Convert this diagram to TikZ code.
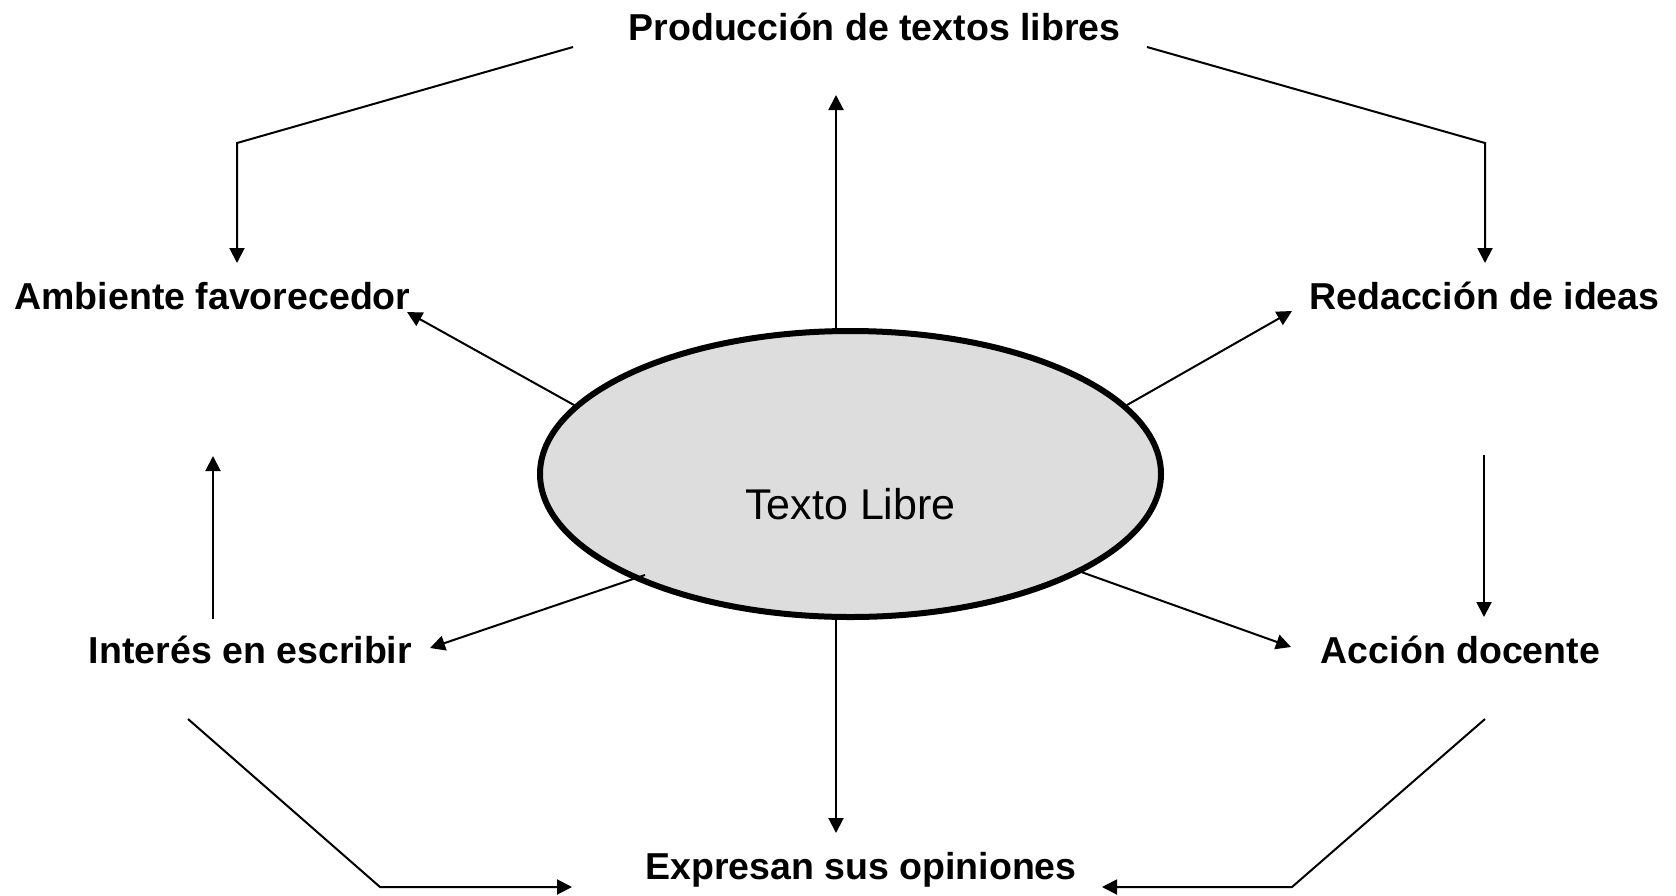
\documentclass[tikz,border=0pt]{standalone}
\usepackage{fontspec}
\setmainfont{Liberation Sans}
\usetikzlibrary{arrows.meta,shapes.geometric}
\definecolor{ellgray}{RGB}{221,221,221}
\begin{document}
\begin{tikzpicture}[x=0.5pt,y=-0.5pt,
  lbl/.style={font=\fontsize{18.75}{22}\selectfont\bfseries, inner sep=0pt, anchor=base},
  conn/.style={line width=1pt},
  arr/.style={conn, -{Triangle[length=7.5pt,width=7.5pt]}},
  hub/.style={ellipse, draw, line width=3pt, fill=ellgray, minimum width=310.5pt,
    minimum height=143pt, inner sep=0pt, text height=46pt,
    font=\fontsize{21.5}{24}\selectfont}
]
\useasboundingbox (0,0) rectangle (1676,895);

\node[hub] (E) at (850.5,474) {Texto Libre};

\node[lbl] (P) at (874.5,40) {Producción de textos libres};
\node[lbl] (A) at (212.5,309) {Ambiente favorecedor};
\node[lbl] (R) at (1484.5,309) {Redacción de ideas};
\node[lbl] (I) at (250.5,663) {Interés en escribir};
\node[lbl] (D) at (1460.5,663) {Acción docente};
\node[lbl] (X) at (861,879) {Expresan sus opiniones};

\coordinate (tl0) at (573,47);
\coordinate (tl1) at (237,143);
\coordinate (tl2) at (237,263);
\coordinate (tr0) at (1147,47);
\coordinate (tr1) at (1485,143);
\coordinate (tr2) at (1485,263);
\coordinate (up) at (836,95);
\coordinate (dn) at (836,833);
\coordinate (aA) at (407,312);
\coordinate (aR) at (1292,311);
\coordinate (iS) at (645,575);
\coordinate (aI) at (430,648);
\coordinate (aD) at (1291,647);
\coordinate (iu0) at (213,619);
\coordinate (iu1) at (213,456);
\coordinate (rd0) at (1484,455);
\coordinate (rd1) at (1484,617);
\coordinate (bl0) at (188,719);
\coordinate (bl1) at (380,887);
\coordinate (bl2) at (572,887);
\coordinate (br0) at (1485,719);
\coordinate (br1) at (1292,887);
\coordinate (br2) at (1102,887);

\draw[arr] (tl0) -- (tl1) -- (tl2);
\draw[arr] (tr0) -- (tr1) -- (tr2);
\draw[arr] (E.north -| up) -- (up);
\draw[arr] (E.south -| dn) -- (dn);
\draw[arr] (E.166.3) -- (aA);
\draw[arr] (E.14.1) -- (aR);
\draw[arr] (iS) -- (aI);
\draw[arr] (E.-23.9) -- (aD);
\draw[arr] (iu0) -- (iu1);
\draw[arr] (rd0) -- (rd1);
\draw[arr] (bl0) -- (bl1) -- (bl2);
\draw[arr] (br0) -- (br1) -- (br2);
\end{tikzpicture}
\end{document}
